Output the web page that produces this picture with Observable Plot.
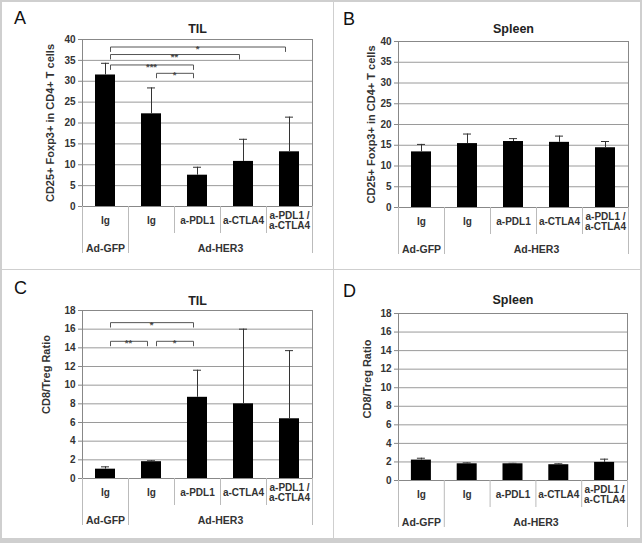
<!DOCTYPE html>
<html><head><meta charset="utf-8">
<script src="https://cdn.jsdelivr.net/npm/d3@7"></script>
<script src="https://cdn.jsdelivr.net/npm/@observablehq/plot@0.6"></script>
<style>
body{margin:0;background:#fff;font-family:"Liberation Sans",Arial,sans-serif;}
#fig{position:relative;width:642px;height:543px;overflow:hidden;background:#fff;}
.panel{position:absolute;}
.letter{position:absolute;font-size:18px;color:#111;line-height:1;}
.rule{position:absolute;background:#cfcfcf;}
</style></head><body><div id="fig"></div>
<script>
// ---- data ----
const categoryLabels = ["Ig", "Ig", "a-PDL1", "a-CTLA4", "a-PDL1 /\na-CTLA4"];
const vectorOfCategory = ["Ad-GFP", "Ad-HER3", "Ad-HER3", "Ad-HER3", "Ad-HER3"];

const tregTicks = [0, 5, 10, 15, 20, 25, 30, 35, 40];
const ratioTicks = [0, 2, 4, 6, 8, 10, 12, 14, 16, 18];

const tilTregMean = [31.5, 22.2, 7.5, 10.8, 13.1];
const tilTregSem = [2.8, 6.2, 1.9, 5.3, 8.3];
const spleenTregMean = [13.4, 15.4, 15.9, 15.7, 14.4];
const spleenTregSem = [1.8, 2.3, 0.7, 1.5, 1.5];
const tilRatioMean = [1.0, 1.8, 8.7, 8.0, 6.4];
const tilRatioSem = [0.25, 0.1, 2.9, 8.0, 7.3];
const spleenRatioMean = [2.2, 1.8, 1.8, 1.7, 1.95];
const spleenRatioSem = [0.2, 0.1, 0.05, 0.1, 0.35];

const tilTregSigLabel = ["*", "**", "***", "*"];
const tilTregSigFrom = [0, 0, 0, 1];
const tilTregSigTo = [4, 3, 2, 2];
const tilTregSigHeight = [38.2, 36.4, 33.9, 31.9];

const tilRatioSigLabel = ["*", "**", "*"];
const tilRatioSigFrom = [0, 0, 1];
const tilRatioSigTo = [2, 1, 2];
const tilRatioSigHeight = [16.7, 14.7, 14.7];

const tregLabel = "CD25+ Foxp3+ in CD4+ T cells";
const ratioLabel = "CD8/Treg Ratio";

// ---- drawing ----
const FONT = "'Liberation Sans', Arial, sans-serif";
const fig = document.getElementById("fig");

function panel(o) {
  const m = o.margin;
  const plotW = o.width - m.l - m.r, plotH = o.height - m.t - m.b;
  const n = categoryLabels.length;
  const step = plotW / n;
  const yMax = d3.max(o.ticks);
  const ppu = plotH / yMax;
  const rows = categoryLabels.map((label, i) => ({i, label, mean: o.mean[i], upper: o.mean[i] + o.sem[i]}));
  const groups = d3.groups(vectorOfCategory.map((g, i) => ({g, i})), d => d.g)
    .map(([g, arr]) => ({label: g, start: arr[0].i, end: arr[arr.length - 1].i + 1}));
  const bounds = d3.range(n + 1).map(b => ({b, long: groups.some(g => g.start === b || g.end === b)}));
  const sig = (o.sigLabel || []).map((label, k) => ({k, label, from: o.sigFrom[k], to: o.sigTo[k], y: o.sigHeight[k]}));
  const drop = 4.5 / ppu, lg = 5 / step, rg = 4 / step;
  const pts = sig.flatMap(s => [
    {k: s.k, x: s.from + 0.5 + lg, y: s.y - drop},
    {k: s.k, x: s.from + 0.5 + lg, y: s.y},
    {k: s.k, x: s.to + 0.5 - rg, y: s.y},
    {k: s.k, x: s.to + 0.5 - rg, y: s.y - drop}
  ]);
  const inset = (step - 20) / 2;
  const cap = 4 / step;
  const svg = Plot.plot({
    width: o.width, height: o.height,
    marginTop: m.t, marginBottom: m.b, marginLeft: m.l, marginRight: m.r,
    style: {fontFamily: FONT, background: "transparent"},
    x: {domain: [0, n], axis: null},
    y: {domain: [0, yMax], axis: null},
    marks: [
      Plot.gridY(o.ticks, {stroke: "#9a9a9a", strokeOpacity: 1}),
      Plot.rect(rows, {x1: d => d.i, x2: d => d.i + 1, y1: 0, y2: "mean", fill: "#000", insetLeft: inset, insetRight: inset}),
      Plot.ruleX(rows, {x: d => d.i + 0.5, y1: "mean", y2: "upper", stroke: "#333"}),
      Plot.ruleY(rows, {y: "upper", x1: d => d.i + 0.5 - cap, x2: d => d.i + 0.5 + cap, stroke: "#333"}),
      Plot.frame({stroke: "#888"}),
      Plot.axisY(o.ticks, {tickSize: 4, tickPadding: 3, fontWeight: "bold", fontSize: 10, fill: "#333", stroke: "#888", label: null}),
      Plot.ruleX(bounds, {x: "b", y1: 0, y2: d => -(d.long ? 47 : 27) / ppu, stroke: "#bbb"}),
      Plot.text(rows, {x: d => d.i + 0.5, text: "label", frameAnchor: "bottom", dy: 14, lineAnchor: "middle", textAnchor: "middle", fontWeight: "bold", fontSize: 10, fill: "#333", lineHeight: 1.05}),
      Plot.text(groups, {x: d => (d.start + d.end) / 2, text: "label", frameAnchor: "bottom", dy: 42, lineAnchor: "middle", textAnchor: "middle", fontWeight: "bold", fontSize: 10.5, fill: "#333"}),
      Plot.line(pts, {x: "x", y: "y", z: "k", stroke: "#555", strokeWidth: 1}),
      Plot.text(sig, {x: d => (d.from + d.to) / 2 + 0.5, y: "y", text: "label", lineAnchor: "bottom", dy: 5, fontSize: 9.5, fontWeight: "bold", fill: "#444"}),
      Plot.text([o.yLabel], {frameAnchor: "left", rotate: -90, dx: o.labelDx, dy: o.labelDy || 0, textAnchor: "middle", lineAnchor: "middle", fontWeight: "bold", fontSize: 11, fill: "#333"}),
      Plot.text([o.title], {frameAnchor: "top", dy: o.titleDy, lineAnchor: "middle", textAnchor: "middle", fontWeight: "bold", fontSize: 12.5, fill: "#222"})
    ]
  });
  const wrap = document.createElement("div");
  wrap.className = "panel";
  wrap.style.left = o.left + "px";
  wrap.style.top = o.top + "px";
  wrap.appendChild(svg);
  fig.appendChild(wrap);
  const L = document.createElement("div");
  L.className = "letter";
  L.textContent = o.letter;
  L.style.left = o.letterX + "px";
  L.style.top = o.letterY + "px";
  fig.appendChild(L);
}

function rule(x, y, w, h) {
  const d = document.createElement("div");
  d.className = "rule";
  Object.assign(d.style, {left: x + "px", top: y + "px", width: w + "px", height: h + "px"});
  fig.appendChild(d);
}

panel({left: 0, top: 0, width: 333, height: 269, margin: {t: 39, b: 63, l: 82, r: 21},
  mean: tilTregMean, sem: tilTregSem, ticks: tregTicks, yLabel: tregLabel, labelDx: -32,
  title: "TIL", titleDy: -11, letter: "A", letterX: 14, letterY: 9,
  sigLabel: tilTregSigLabel, sigFrom: tilTregSigFrom, sigTo: tilTregSigTo, sigHeight: tilTregSigHeight});
panel({left: 333, top: 0, width: 307, height: 269, margin: {t: 41, b: 62, l: 65, r: 12},
  mean: spleenTregMean, sem: spleenTregSem, ticks: tregTicks, yLabel: tregLabel, labelDx: -27,
  title: "Spleen", titleDy: -13, letter: "B", letterX: 343, letterY: 10});
panel({left: 0, top: 269, width: 333, height: 271, margin: {t: 41, b: 62, l: 82, r: 21},
  mean: tilRatioMean, sem: tilRatioSem, ticks: ratioTicks, yLabel: ratioLabel, labelDx: -36, labelDy: -20,
  title: "TIL", titleDy: -10, letter: "C", letterX: 14, letterY: 279,
  sigLabel: tilRatioSigLabel, sigFrom: tilRatioSigFrom, sigTo: tilRatioSigTo, sigHeight: tilRatioSigHeight});
panel({left: 333, top: 269, width: 307, height: 271, margin: {t: 44, b: 60, l: 65, r: 13},
  mean: spleenRatioMean, sem: spleenRatioSem, ticks: ratioTicks, yLabel: ratioLabel, labelDx: -31, labelDy: -18,
  title: "Spleen", titleDy: -14, letter: "D", letterX: 343, letterY: 282});

// panel borders
rule(0, 0, 641, 1.5);
rule(0, 0, 1.5, 541);
rule(639.5, 0, 2, 541);
rule(0, 538, 642, 5);
rule(332.5, 0, 1.5, 540);
rule(0, 268.5, 641, 1.5);
</script></body></html>
